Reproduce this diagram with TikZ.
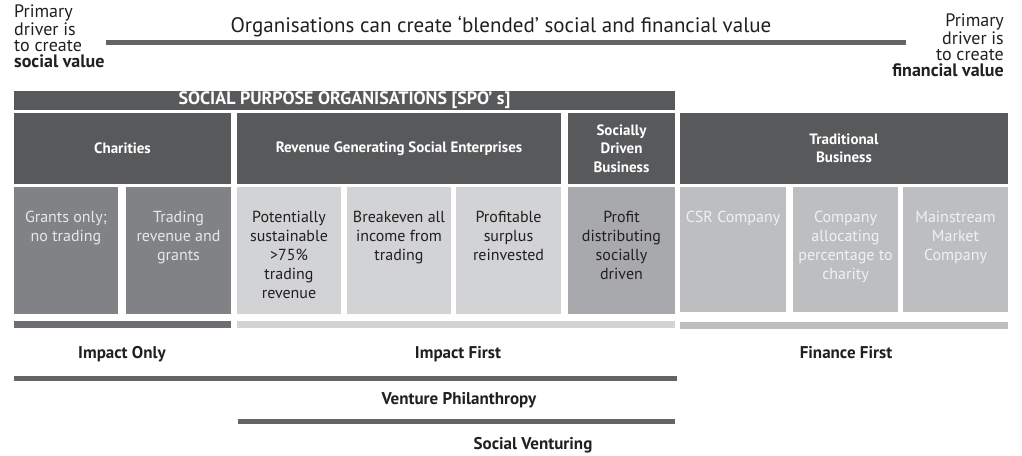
\documentclass[tikz,border=0pt]{standalone}
\usepackage{fontspec}
\setmainfont{PT Sans}
\definecolor{hd}{HTML}{58595B}
\definecolor{chs}{HTML}{808285}
\definecolor{rgs}{HTML}{D1D3D4}
\definecolor{sds}{HTML}{A7A9AC}
\definecolor{trs}{HTML}{BCBEC0}
\definecolor{lnc}{HTML}{636466}
\definecolor{iob}{HTML}{6D6E71}
\definecolor{dk}{HTML}{231F20}
\definecolor{lt}{HTML}{E6E7E8}
\definecolor{wt}{HTML}{F1F1F2}
\tikzset{
  blk/.style={inner sep=0pt, outer sep=0pt, anchor=north west, draw=none},
  hdbox/.style={blk, fill=hd, text=white, align=center, font=\fontsize{15}{18.5}\selectfont\bfseries},
  sublbl/.style={inner sep=0pt, anchor=base, align=center, font=\fontsize{16}{19}\selectfont},
  sidetxt/.style={inner sep=0pt, anchor=base west, align=left, font=\fontsize{18}{16}\selectfont, text=dk},
  botlbl/.style={inner sep=0pt, anchor=base, text=dk, font=\fontsize{17}{20}\selectfont\bfseries}
}
\begin{document}
\begin{tikzpicture}[x=1pt,y=-1pt]
\useasboundingbox[fill=white] (0,0) rectangle (1022,455);
% title and top line
\node[inner sep=0pt, anchor=base, text=dk, font=\fontsize{21}{24}\selectfont] (title) at (501,32) {Organisations can create ‘blended’ social and financial value};
\fill[lnc] (106,40) rectangle (906,45);
\node[sidetxt] (lefttxt) at (14,67) {Primary\\driver is\\to create\\\textbf{social value}};
\node[sidetxt, anchor=base east, align=right] (righttxt) at (1004,76) {Primary\\driver is\\to create\\\textbf{financial value}};
% SPO bar
\node[hdbox, minimum width=661pt, minimum height=19pt, font=\fontsize{18}{20}\selectfont\bfseries] (spo) at (14,91) {SOCIAL PURPOSE ORGANISATIONS [SPO’ s]};
% header boxes
\node[hdbox, minimum width=217pt, minimum height=71pt] (charh) at (14,113) {Charities};
\node[hdbox, minimum width=324pt, minimum height=71pt] (rgseh) at (237,113) {Revenue Generating Social Enterprises};
\node[hdbox, minimum width=107pt, minimum height=71pt] (sdbh) at (568,113) {Socially\\Driven\\Business};
\node[hdbox, minimum width=328pt, minimum height=71pt] (trh) at (680,113) {Traditional\\Business};
% sub boxes
\node[blk, fill=chs, minimum width=104pt, minimum height=127pt] (s1) at (14,187) {};
\node[blk, fill=chs, minimum width=105pt, minimum height=127pt] (s2) at (126,187) {};
\node[blk, fill=rgs, minimum width=104pt, minimum height=127pt] (s3) at (237,187) {};
\node[blk, fill=rgs, minimum width=104pt, minimum height=127pt] (s4) at (347,187) {};
\node[blk, fill=rgs, minimum width=105pt, minimum height=127pt] (s5) at (456,187) {};
\node[blk, fill=sds, minimum width=107pt, minimum height=127pt] (s6) at (568,187) {};
\node[blk, fill=trs, minimum width=106pt, minimum height=125pt] (s7) at (680,187) {};
\node[blk, fill=trs, minimum width=105pt, minimum height=125pt] (s8) at (793,187) {};
\node[blk, fill=trs, minimum width=105pt, minimum height=125pt] (s9) at (903,187) {};
% sub labels (anchored at the baseline of their last line; first baseline at 222)
\node[sublbl, text=lt] (l1) at (s1.north |- 0,241) {Grants only;\\no trading};
\node[sublbl, text=lt] (l2) at (s2.north |- 0,260) {Trading\\revenue and\\grants};
\node[sublbl, text=dk] (l3) at (s3.north |- 0,298) {Potentially\\sustainable\\>75\%\\trading\\revenue};
\node[sublbl, text=dk] (l4) at (s4.north |- 0,260) {Breakeven all\\income from\\trading};
\node[sublbl, text=dk] (l5) at (s5.north |- 0,260) {Profitable\\surplus\\reinvested};
\node[sublbl, text=dk] (l6) at (s6.north |- 0,279) {Profit\\distributing\\socially\\driven};
\node[sublbl, text=wt] (l7) at (s7.north |- 0,222) {CSR Company};
\node[sublbl, text=wt] (l8) at (s8.north |- 0,279) {Company\\allocating\\percentage to\\charity};
\node[sublbl, text=wt] (l9) at (s9.north |- 0,260) {Mainstream\\Market\\Company};
% bottom bars
\node[blk, fill=iob, minimum width=217pt, minimum height=7pt] (b1) at (14,321) {};
\node[blk, fill=rgs, minimum width=438pt, minimum height=7pt] (b2) at (237,321) {};
\node[blk, fill=trs, minimum width=328pt, minimum height=7pt] (b3) at (680,322) {};
\node[botlbl] (io) at (122,358) {Impact Only};
\node[botlbl] (if) at (458,358) {Impact First};
\node[botlbl] (ff) at (846,358) {Finance First};
% venture lines
\node[blk, fill=lnc, minimum width=663pt, minimum height=5pt] (vp) at (14,376) {};
\node[botlbl] (vpt) at (459,404) {Venture Philanthropy};
\node[blk, fill=lnc, minimum width=437pt, minimum height=5pt] (sv) at (238,419) {};
\node[botlbl] (svt) at (533,449) {Social Venturing};
\end{tikzpicture}
\end{document}
